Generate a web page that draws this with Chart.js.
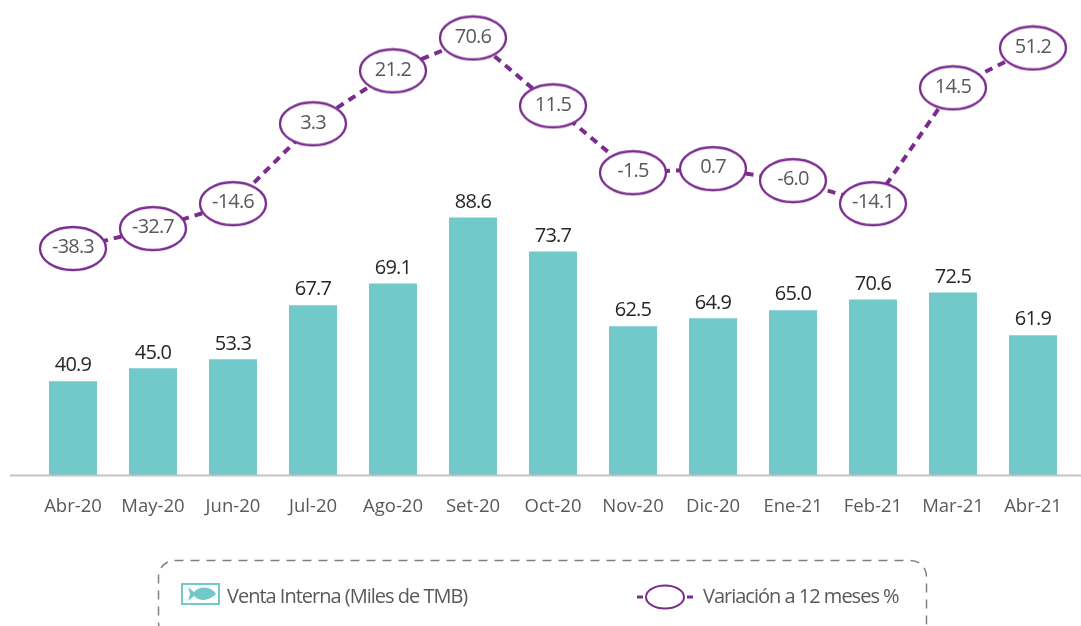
<!DOCTYPE html>
<html>
<head>
<meta charset="utf-8">
<script src="https://cdn.jsdelivr.net/npm/chart.js@4"></script>
<style>html,body{margin:0;padding:0;background:#fff;overflow:hidden}canvas{display:block}</style>
</head>
<body>
<canvas id="c" width="1081" height="626"></canvas>
<script>
const categories = ['Abr-20','May-20','Jun-20','Jul-20','Ago-20','Set-20','Oct-20','Nov-20','Dic-20','Ene-21','Feb-21','Mar-21','Abr-21'];
// Numbers printed in the picture.
const ventaPrinted = ['40.9','45.0','53.3','67.7','69.1','88.6','73.7','62.5','64.9','65.0','70.6','72.5','61.9'];
const variacionPrinted = ['-38.3','-32.7','-14.6','3.3','21.2','70.6','11.5','-1.5','0.7','-6.0','-14.1','14.5','51.2'];
// The reference marks are not proportional to their printed numbers, so these
// hold the magnitudes the marks visibly have, read on hidden axes.
const ventaDrawn = [32.3,36.7,39.8,58.4,65.9,88.6,76.9,51.2,53.9,56.7,60.4,62.8,48.1];
const variacionDrawn = [-38.3,-28.0,-15.1,26.2,53.6,70.6,35.5,0.9,3.0,-3.2,-15.1,44.8,65.4];
const legendVenta = 'Venta Interna (Miles de TMB)';
const legendVariacion = 'Variación a 12 meses %';

const TEAL = '#71C9CA', PURPLE = '#7B2D8E', GREY = '#595959', DARK = '#262626';
const FONT = '"Open Sans"';

function ellipseSprite(w, h) {
  const s = document.createElement('canvas');
  s.width = w; s.height = h;
  const g = s.getContext('2d');
  g.beginPath();
  g.ellipse(w/2, h/2, w/2 - 2, h/2 - 2, 0, 0, Math.PI*2);
  g.fillStyle = '#fff'; g.fill();
  g.lineWidth = 2.3; g.strokeStyle = PURPLE; g.stroke();
  return s;
}
const sprite = ellipseSprite(70, 47);

function spaced(ctx, sp) { if ('letterSpacing' in ctx) ctx.letterSpacing = sp; }

const decor = {
  id: 'decor',
  afterDraw(chart) {
    const ctx = chart.ctx, bottom = chart.chartArea.bottom;
    ctx.save();
    ctx.strokeStyle = '#C4C4C4'; ctx.lineWidth = 2;
    ctx.beginPath(); ctx.moveTo(10, bottom + 0.5); ctx.lineTo(1081, bottom + 0.5); ctx.stroke();

    ctx.textAlign = 'center'; ctx.textBaseline = 'middle';
    spaced(ctx, '-0.8px');
    ctx.font = '20px ' + FONT; ctx.fillStyle = DARK;
    chart.getDatasetMeta(0).data.forEach((b, i) => ctx.fillText(ventaPrinted[i], b.x, b.y - 15.5));
    ctx.fillStyle = GREY;
    chart.getDatasetMeta(1).data.forEach((p, i) => ctx.fillText(variacionPrinted[i], p.x, p.y - 1));

    // legend
    ctx.setLineDash([9, 7]); ctx.lineWidth = 1.5; ctx.strokeStyle = '#808080';
    ctx.beginPath(); ctx.roundRect(158.5, 560.5, 768, 78, 16); ctx.stroke();
    ctx.setLineDash([]);

    ctx.lineWidth = 2; ctx.strokeStyle = TEAL; ctx.strokeRect(182, 584, 37, 20);
    ctx.fillStyle = TEAL;
    ctx.beginPath();
    ctx.moveTo(188, 587); ctx.lineTo(194, 592);
    ctx.quadraticCurveTo(199, 586, 208, 588);
    ctx.quadraticCurveTo(214, 590, 216, 594);
    ctx.quadraticCurveTo(210, 600, 202, 600);
    ctx.quadraticCurveTo(197, 599, 194, 596);
    ctx.lineTo(188, 601); ctx.lineTo(190, 594);
    ctx.closePath(); ctx.fill();

    ctx.fillStyle = PURPLE;
    ctx.fillRect(637, 595.5, 6, 3);
    ctx.fillRect(687, 595.5, 6, 3);
    ctx.beginPath(); ctx.ellipse(665, 597, 19, 11.5, 0, 0, Math.PI*2);
    ctx.lineWidth = 2; ctx.strokeStyle = PURPLE; ctx.stroke();

    ctx.textAlign = 'left'; ctx.fillStyle = GREY;
    spaced(ctx, '-1px');
    ctx.font = '20px ' + FONT;
    ctx.fillText(legendVenta, 227, 597);
    ctx.fillText(legendVariacion, 703, 597);
    ctx.restore();
  }
};

new Chart(document.getElementById('c'), {
  data: {
    labels: categories,
    datasets: [
      { type: 'bar', label: legendVenta, data: ventaDrawn, yAxisID: 'y', order: 2,
        backgroundColor: TEAL, borderWidth: 0, barPercentage: 0.6, categoryPercentage: 1 },
      { type: 'line', label: legendVariacion, data: variacionDrawn, yAxisID: 'y2', order: 1,
        borderColor: PURPLE, borderWidth: 4, borderDash: [8, 6], tension: 0, fill: false,
        pointStyle: sprite, pointRadius: 1, pointHoverRadius: 1, pointBorderWidth: 0 }
    ]
  },
  options: {
    responsive: false, animation: false,
    layout: { padding: { left: 33, right: 8, top: 0, bottom: 0 } },
    plugins: { legend: { display: false }, tooltip: { enabled: false } },
    scales: {
      x: {
        grid: { display: false }, border: { display: false },
        ticks: { color: GREY, font: { family: 'Open Sans', size: 18.5 }, padding: 13, maxRotation: 0, autoSkip: false },
        afterFit(a) { a.height = 151; }
      },
      y: { display: false, min: 0, max: 163.1 },
      y2: { display: false, min: -155.4, max: 89.7 }
    }
  },
  plugins: [decor]
});
</script>
</body>
</html>
